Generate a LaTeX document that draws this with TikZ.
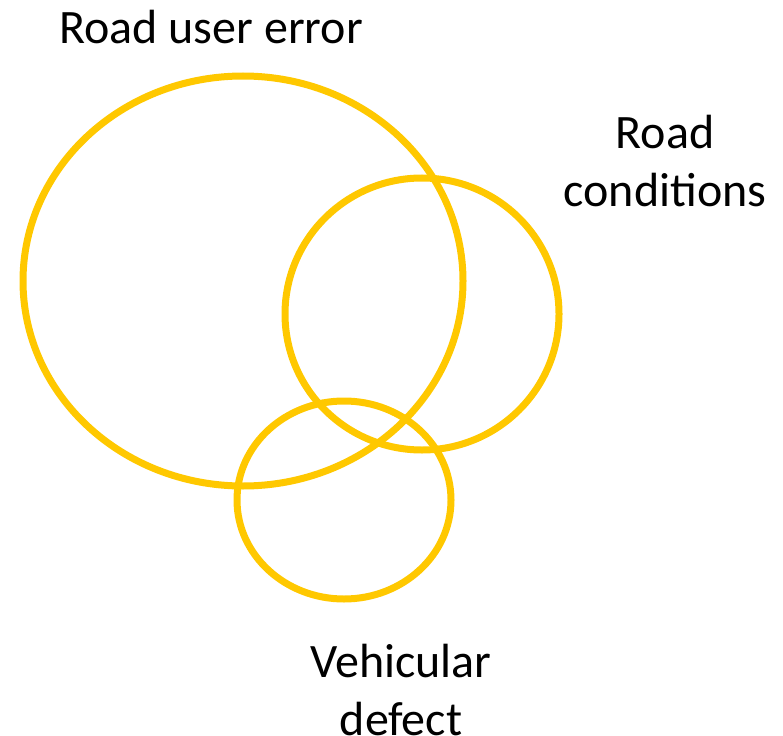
\documentclass[tikz,border=0pt]{standalone}
\usepackage{fontspec}
\setmainfont{Carlito}
\definecolor{gold}{HTML}{FFC800}
\begin{document}
\begin{tikzpicture}[x=1pt,y=-1pt,
  ring/.style={draw=gold,line width=7pt},
  lbl/.style={font=\fontsize{48}{58}\selectfont,align=center,inner sep=0pt,text=black}]
\useasboundingbox (0,0) rectangle (783,735);
\draw[ring] (243,281) ellipse [x radius=220, y radius=205];
\draw[ring] (422,314) ellipse [x radius=137, y radius=136];
\draw[ring] (344,500) ellipse [x radius=107, y radius=99];
\node[lbl] (rue) at (211,27) {Road user error};
\node[lbl] (rc) at (665,161) {Road\\conditions};
\node[lbl] (vd) at (401,690) {Vehicular\\defect};
\end{tikzpicture}
\end{document}
